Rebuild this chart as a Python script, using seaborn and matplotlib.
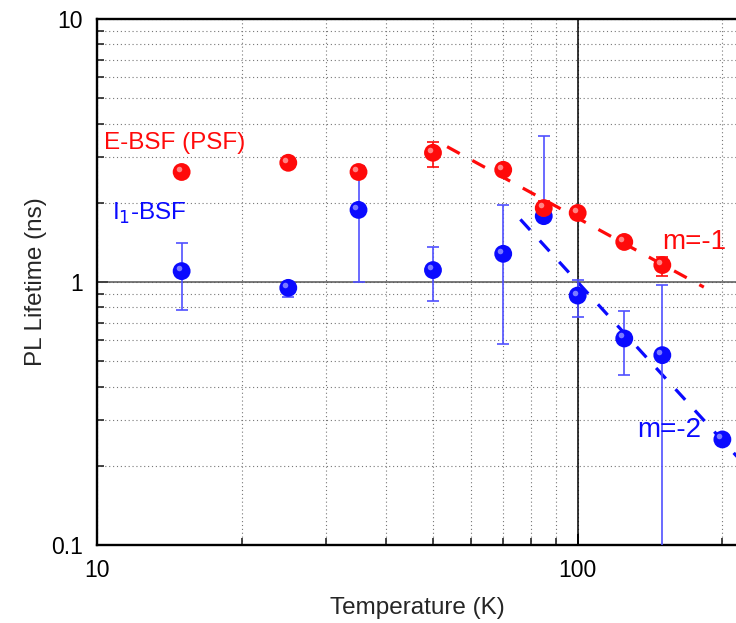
import numpy as np
import pandas as pd
import seaborn as sns
import matplotlib
matplotlib.use("Agg")
import matplotlib.pyplot as plt
from matplotlib.transforms import ScaledTranslation
from matplotlib.ticker import LogLocator, NullFormatter, FixedLocator, FixedFormatter

# PL lifetime of extrinsic (E-BSF) and I1 basal stacking faults vs temperature
temp_ebsf = [15, 25, 35, 50, 70, 85, 100, 125, 150]
tau_ebsf = [2.62, 2.84, 2.62, 3.10, 2.67, 1.91, 1.83, 1.42, 1.16]
ebsf_lo = [2.62, 2.84, 2.62, 2.73, 2.67, 1.84, 1.83, 1.42, 1.056]
ebsf_hi = [2.62, 2.84, 2.62, 3.41, 2.67, 2.03, 1.83, 1.42, 1.25]

temp_i1 = [15, 25, 35, 50, 70, 85, 100, 125, 150, 200]
tau_i1 = [1.10, 0.95, 1.88, 1.11, 1.28, 1.78, 0.888, 0.61, 0.527, 0.252]
i1_lo = [0.784, 0.88, 1.0, 0.846, 0.58, 1.70, 0.736, 0.442, 0.05, 0.252]
i1_hi = [1.41, 1.0, 2.77, 1.36, 1.96, 3.6, 1.02, 0.775, 0.974, 0.252]

# power-law guides (straight segments on log-log axes)
fit_ebsf_x = [53.5, 183.0]
fit_ebsf_y = [3.27, 0.956]
fit_i1_x = [76.0, 216.0]
fit_i1_y = [1.73, 0.214]

RED = "#ff0a0a"
BLUE = "#0a0aff"

sns.set_style("white")
plt.rcParams["font.family"] = ["Liberation Sans", "DejaVu Sans"]

fig = plt.figure(figsize=(7.36, 6.23), dpi=100)
ax = fig.add_axes([97 / 736, 1 - 545 / 623, 1 - 97 / 736 + 0.002, (545 - 19) / 623])
ax.set_xscale("log")
ax.set_yscale("log")
ax.set_xlim(10, 215)
ax.set_ylim(0.1, 10)

# grid: dotted at major and minor decades
ax.grid(True, which="both", linestyle=(0, (1, 2.5)), color="#777777", linewidth=0.8)
ax.axhline(1, color="#555555", linewidth=1.1, zorder=1)
ax.axvline(100, color="black", linewidth=1.1, zorder=1)

# fit guides
ax.plot(fit_ebsf_x, fit_ebsf_y, linestyle=(0, (4.5, 4.5)), color=RED, linewidth=2.3, zorder=2)
ax.plot(fit_i1_x, fit_i1_y, linestyle=(0, (4.5, 4.5)), color=BLUE, linewidth=2.3, zorder=2)

# error bars
def draw_err(x, y, lo, hi, color):
    y = np.asarray(y)
    yerr = np.vstack([y - np.asarray(lo), np.asarray(hi) - y])
    ax.errorbar(x, y, yerr=yerr, fmt="none", ecolor=color, elinewidth=1.2,
                capsize=4.5, capthick=1.2, zorder=3)

draw_err(temp_ebsf, tau_ebsf, ebsf_lo, ebsf_hi, RED)
draw_err(temp_i1, tau_i1, i1_lo, i1_hi, "#5050ff")

df_e = pd.DataFrame({"T": temp_ebsf, "tau": tau_ebsf})
df_i = pd.DataFrame({"T": temp_i1, "tau": tau_i1})
sns.scatterplot(data=df_i, x="T", y="tau", ax=ax, color=BLUE, s=165,
                edgecolor="none", zorder=4, legend=False)
sns.scatterplot(data=df_e, x="T", y="tau", ax=ax, color=RED, s=165,
                edgecolor="none", zorder=5, legend=False)

# specular highlight, shifted up-left on each sphere
shift = ax.transData + ScaledTranslation(-2.2 / 72, 2.2 / 72, fig.dpi_scale_trans)
ax.plot(temp_i1, tau_i1, "o", ms=4, color="#9090ff", alpha=0.85, mec="none",
        transform=shift, zorder=4.5)
ax.plot(temp_ebsf, tau_ebsf, "o", ms=4, color="#ff9a9a", alpha=0.85, mec="none",
        transform=shift, zorder=5.5)

# ticks and labels
ax.xaxis.set_major_locator(FixedLocator([10, 100]))
ax.xaxis.set_major_formatter(FixedFormatter(["10", "100"]))
ax.xaxis.set_minor_locator(LogLocator(base=10, subs=np.arange(2, 10), numticks=20))
ax.xaxis.set_minor_formatter(NullFormatter())
ax.yaxis.set_major_locator(FixedLocator([0.1, 1, 10]))
ax.yaxis.set_major_formatter(FixedFormatter(["0.1", "1", "10"]))
ax.yaxis.set_minor_locator(LogLocator(base=10, subs=np.arange(2, 10), numticks=20))
ax.yaxis.set_minor_formatter(NullFormatter())
ax.tick_params(which="major", direction="in", length=8, width=1.4, labelsize=16.5,
               pad=10, colors="black")
ax.tick_params(which="minor", direction="in", length=5, width=1.2)
ax.tick_params(left=True, bottom=True, which="both")

for side in ["left", "bottom", "top"]:
    ax.spines[side].set_color("black")
    ax.spines[side].set_linewidth(1.7)
ax.spines["right"].set_visible(False)

ax.set_xlabel("Temperature (K)", fontsize=17.5, labelpad=11)
ax.set_ylabel("PL Lifetime (ns)", fontsize=17.5, labelpad=3)

ax.text(10.34, 3.38, "E-BSF (PSF)", color=RED, fontsize=17.5, va="center", ha="left")
ax.text(10.75, 1.83, r"I$_1$-BSF", color=BLUE, fontsize=17.5, va="center", ha="left")
ax.text(150, 1.42, "m=-1", color=RED, fontsize=20, va="center", ha="left")
ax.text(133, 0.274, "m=-2", color=BLUE, fontsize=20, va="center", ha="left")

fig.savefig("out.png", dpi=100)
